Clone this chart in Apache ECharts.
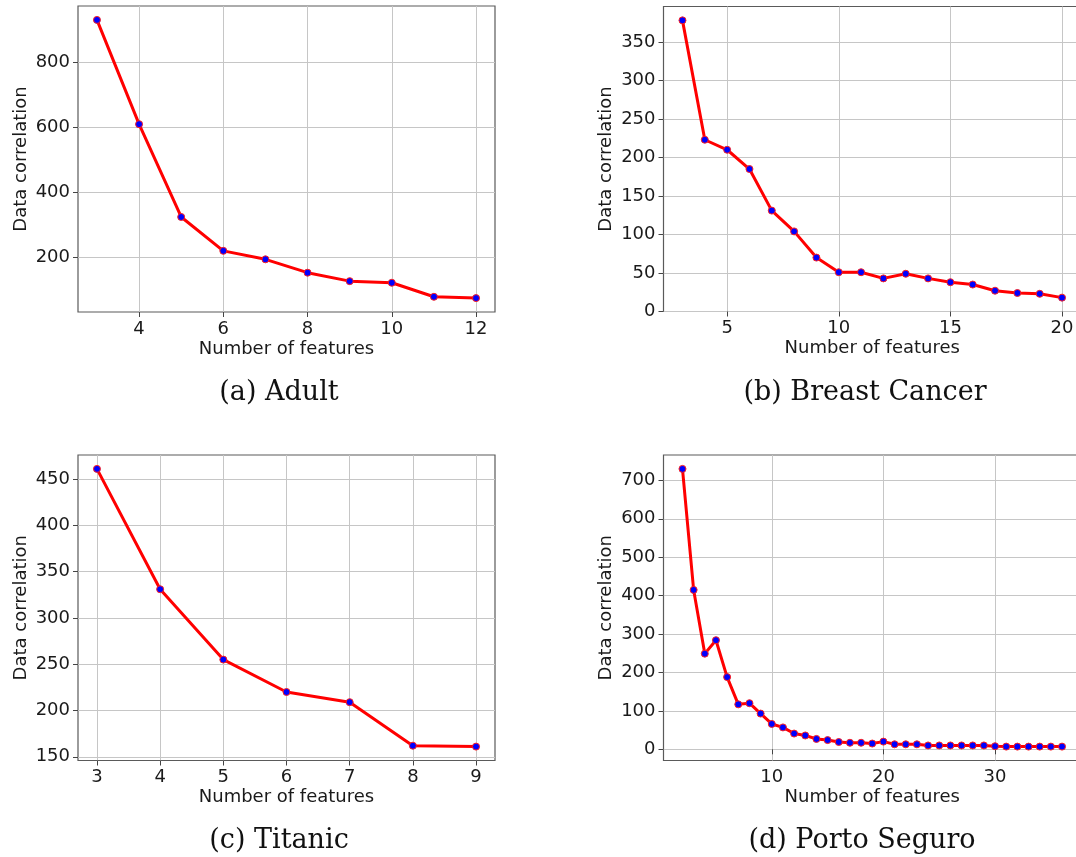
<!DOCTYPE html>
<html>
<head>
<meta charset="utf-8">
<title>Data correlation vs. number of features</title>
<script src="https://cdn.jsdelivr.net/npm/echarts@6/dist/echarts.min.js"></script>
<style>
  html, body { margin: 0; padding: 0; background: #ffffff; }
  #chart { width: 1076px; height: 857px; }
</style>
</head>
<body>
<div id="chart"></div>
<script>
// (a) Adult
const featuresAdult = [3, 4, 5, 6, 7, 8, 9, 10, 11, 12];
const corrAdult = [930, 610, 325, 221, 195, 154, 128, 123, 80, 76];
const adultXTicks = [4, 6, 8, 10, 12];
const adultYTicks = [200, 400, 600, 800];

// (b) Breast Cancer
const featuresBreast = [3, 4, 5, 6, 7, 8, 9, 10, 11, 12, 13, 14, 15, 16, 17, 18, 19, 20];
const corrBreast = [378, 223, 210, 185, 131, 104, 70, 51, 51, 43, 49, 43, 38, 35, 27, 24, 23, 18];
const breastXTicks = [5, 10, 15, 20];
const breastYTicks = [0, 50, 100, 150, 200, 250, 300, 350];

// (c) Titanic
const featuresTitanic = [3, 4, 5, 6, 7, 8, 9];
const corrTitanic = [461, 331, 255, 220, 209, 162, 161];
const titanicXTicks = [3, 4, 5, 6, 7, 8, 9];
const titanicYTicks = [150, 200, 250, 300, 350, 400, 450];

// (d) Porto Seguro
const featuresPorto = [2, 3, 4, 5, 6, 7, 8, 9, 10, 11, 12, 13, 14, 15, 16, 17, 18, 19,
  20, 21, 22, 23, 24, 25, 26, 27, 28, 29, 30, 31, 32, 33, 34, 35, 36];
const corrPorto = [730, 415, 249, 284, 188, 117, 120, 93, 66, 57, 41, 36, 27, 24, 19, 17, 17, 15,
  20, 13, 13, 13, 10, 10, 10, 10, 10, 10, 8, 7, 7, 7, 7, 7, 7];
const portoXTicks = [10, 20, 30];
const portoYTicks = [0, 100, 200, 300, 400, 500, 600, 700];

const captions = ['(a) Adult', '(b) Breast Cancer', '(c) Titanic', '(d) Porto Seguro'];
const xAxisTitle = 'Number of features';
const yAxisTitle = 'Data correlation';

// axis limits with a 5% margin on each side of the data range
function padded(values) {
  const lo = Math.min.apply(null, values);
  const hi = Math.max.apply(null, values);
  const m = (hi - lo) * 0.05;
  return [lo - m, hi + m];
}

const panels = [
  { x: featuresAdult, y: corrAdult, xt: adultXTicks, yt: adultYTicks },
  { x: featuresBreast, y: corrBreast, xt: breastXTicks, yt: breastYTicks },
  { x: featuresTitanic, y: corrTitanic, xt: titanicXTicks, yt: titanicYTicks },
  { x: featuresPorto, y: corrPorto, xt: portoXTicks, yt: portoYTicks }
];

// panel boxes in pixels: offsets from the canvas edges
// (the right-hand panels run a few pixels past the canvas edge)
const boxes = [
  { left: 78, top: 6, right: 581, bottom: 545 },
  { left: 663.5, top: 6.5, right: -5, bottom: 545.5 },
  { left: 78, top: 455, right: 581, bottom: 96.5 },
  { left: 663.5, top: 455, right: -5, bottom: 96.5 }
];
const captionPos = [[279, 379], [865, 379], [279, 827], [862, 827]];

const FONT = 'DejaVu Sans';
const tickFont = { fontFamily: FONT, fontSize: 18, color: '#1a1a1a' };

const grids = [], xAxes = [], yAxes = [], series = [], graphics = [];
panels.forEach(function (p, i) {
  const b = boxes[i];
  grids.push({
    left: b.left, top: b.top, right: b.right, bottom: b.bottom,
    outerBoundsMode: 'none',
    show: true, borderColor: '#5a5a5a', borderWidth: 1.2,
    backgroundColor: 'transparent', containLabel: false
  });
  const xl = padded(p.x), yl = padded(p.y);
  xAxes.push({
    type: 'value', gridIndex: i, min: xl[0], max: xl[1],
    name: xAxisTitle, nameLocation: 'middle', nameGap: 28,
    nameTextStyle: { fontFamily: FONT, fontSize: 18, color: '#1a1a1a' },
    axisLine: { show: false },
    axisTick: { show: true, length: 5, customValues: p.xt, lineStyle: { color: '#444', width: 1 } },
    axisLabel: Object.assign({ margin: 8, customValues: p.xt }, tickFont),
    splitLine: { show: true, lineStyle: { color: '#c6c6c6', width: 1 } }
  });
  yAxes.push({
    type: 'value', gridIndex: i, min: yl[0], max: yl[1],
    name: yAxisTitle, nameLocation: 'middle', nameGap: 48,
    nameTextStyle: { fontFamily: FONT, fontSize: 18, color: '#1a1a1a' },
    axisLine: { show: false },
    axisTick: { show: true, length: 5, customValues: p.yt, lineStyle: { color: '#444', width: 1 } },
    axisLabel: Object.assign({ margin: 8, customValues: p.yt }, tickFont),
    splitLine: { show: true, lineStyle: { color: '#c6c6c6', width: 1 } }
  });
  series.push({
    type: 'line', xAxisIndex: i, yAxisIndex: i,
    data: p.x.map(function (v, k) { return [v, p.y[k]]; }),
    symbol: 'circle', symbolSize: 7,
    lineStyle: { color: '#ff0000', width: 3 },
    itemStyle: { color: '#0000ff', borderColor: '#ff2020', borderWidth: 1 },
    z: 3
  });
  graphics.push({
    type: 'text', x: captionPos[i][0], y: captionPos[i][1],
    style: {
      text: captions[i], font: '27px "DejaVu Serif"', fill: '#111',
      textAlign: 'center', textVerticalAlign: 'top'
    }
  });
});

const chart = echarts.init(document.getElementById('chart'), null, { renderer: 'canvas' });
chart.setOption({
  animation: false,
  backgroundColor: '#ffffff',
  grid: grids,
  xAxis: xAxes,
  yAxis: yAxes,
  series: series,
  graphic: graphics
});
</script>
</body>
</html>
